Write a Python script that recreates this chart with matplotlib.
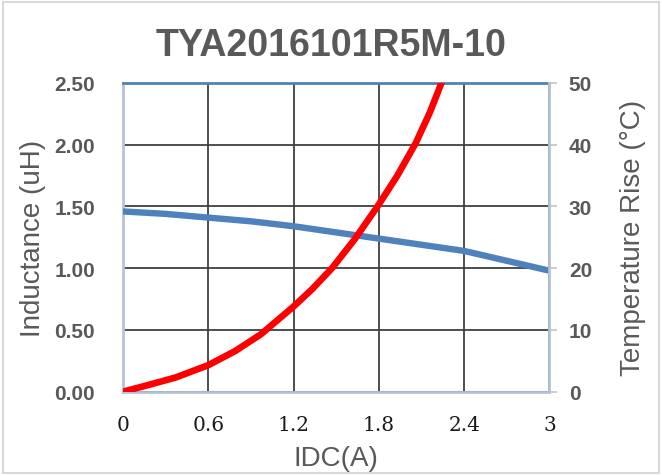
import numpy as np
import matplotlib
matplotlib.use("Agg")
import matplotlib.pyplot as plt
from matplotlib.patches import Rectangle

# data
idc_l = [0, 0.3, 0.6, 0.9, 1.2, 1.5, 1.8, 2.1, 2.4, 2.7, 3.0]
induct = [1.46, 1.44, 1.41, 1.38, 1.34, 1.29, 1.24, 1.19, 1.14, 1.06, 0.98]

idc_t = [0, 0.18, 0.37, 0.6, 0.79, 0.97, 1.2, 1.33, 1.47, 1.63, 1.79, 1.93, 2.06, 2.16, 2.24, 2.32]
temp = [0, 1.1, 2.3, 4.3, 6.6, 9.3, 13.8, 16.6, 20.0, 24.7, 30.0, 35.0, 40.3, 45.3, 50.0, 55.0]

xticks = [0, 0.6, 1.2, 1.8, 2.4, 3]
xlabels = ["0", "0.6", "1.2", "1.8", "2.4", "3"]
yticks_l = [0, 0.5, 1.0, 1.5, 2.0, 2.5]
yticks_r = [0, 10, 20, 30, 40, 50]

gray = "#595959"
blue = "#4f81bd"
spine_c = "#b4c3d6"

plt.rcParams['font.family'] = ['Liberation Sans', 'DejaVu Sans']

fig = plt.figure(figsize=(6.62, 4.77), dpi=100)
ax = fig.add_axes([0.1858, 0.1767, 0.6442, 0.6472])
ax2 = ax.twinx()

ax.plot(idc_l, induct, color=blue, lw=4.6, solid_capstyle="butt",
        solid_joinstyle="round", zorder=3)
ax2.plot(idc_t, temp, color="#ff0000", lw=4.8, solid_capstyle="butt",
         solid_joinstyle="round", zorder=3)

ax.set_xlim(0, 3)
ax.set_ylim(0, 2.5)
ax2.set_ylim(0, 50)

ax.set_xticks(xticks)
ax.set_xticklabels(xlabels, family="DejaVu Serif", fontsize=14.5, color="#1a1a1a")
ax.set_yticks(yticks_l)
ax.set_yticklabels(["%.2f" % v for v in yticks_l], fontsize=15, fontweight="bold", color=gray)
ax2.set_yticks(yticks_r)
ax2.set_yticklabels([str(v) for v in yticks_r], fontsize=15, fontweight="bold", color=gray)

ax.grid(True, color="#404040", lw=1.3)
ax.set_axisbelow(True)

ax.tick_params(axis="x", length=0, pad=17)
ax.tick_params(axis="y", length=0, pad=20)
ax2.tick_params(axis="y", length=6, width=1.3, color="#c8c8c8", pad=8)

for s in ["left", "bottom"]:
    ax.spines[s].set_color(spine_c)
    ax.spines[s].set_linewidth(2)
ax.spines["top"].set_color(blue)
ax.spines["top"].set_linewidth(2)
ax.spines["right"].set_visible(False)
for s in ["left", "bottom", "top"]:
    ax2.spines[s].set_visible(False)
ax2.spines["right"].set_color(spine_c)
ax2.spines["right"].set_linewidth(2)

ax.set_xlabel("IDC(A)", fontsize=20, color=gray, labelpad=8)
ax.set_ylabel("Inductance (uH)", fontsize=20, color=gray, labelpad=6)
ax2.set_ylabel("Temperature Rise (\u00b0C)", fontsize=20, color=gray, labelpad=20)

fig.text(0.5, 0.903, "TYA2016101R5M-10", ha="center", va="center",
         fontsize=27, fontweight="bold", color=gray)

fig.patches.append(Rectangle((0.004, 0.006), 0.992, 0.988, transform=fig.transFigure,
                             fill=False, edgecolor="#d9d9d9", lw=1.5))

fig.savefig("out.png", dpi=100)
